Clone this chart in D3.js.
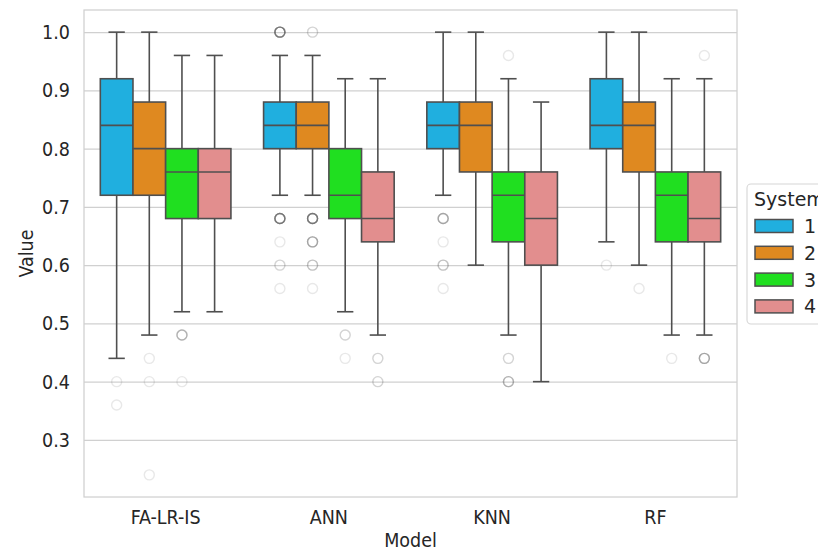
<!DOCTYPE html>
<html>
<head>
<meta charset="utf-8">
<script src="https://cdn.jsdelivr.net/npm/d3@7"></script>
<style>
    body { margin: 0; background: #ffffff; }
    text { font-family: "DejaVu Sans Condensed", "DejaVu Sans", sans-serif; font-stretch: condensed; fill: #262626; }
    text.legend-text { font-family: "DejaVu Sans", sans-serif; font-stretch: normal; }
</style>
</head>
<body>
<svg id="SVG_CONTAINER" width="818" height="551"></svg>
<script>
// categories
const models = ["FA-LR-IS", "ANN", "KNN", "RF"];
const systems = ["1", "2", "3", "4"];
const yTicks = [0.3, 0.4, 0.5, 0.6, 0.7, 0.8, 0.9, 1.0];

// box statistics, rows = model, columns = system
const whiskerHigh = [[1.00, 1.00, 0.96, 0.96], [0.96, 0.96, 0.92, 0.92], [1.00, 1.00, 0.92, 0.88], [1.00, 1.00, 0.92, 0.92]];
const q3 =          [[0.92, 0.88, 0.80, 0.80], [0.88, 0.88, 0.80, 0.76], [0.88, 0.88, 0.76, 0.76], [0.92, 0.88, 0.76, 0.76]];
const median =      [[0.84, 0.80, 0.76, 0.76], [0.84, 0.84, 0.72, 0.68], [0.84, 0.84, 0.72, 0.68], [0.84, 0.84, 0.72, 0.68]];
const q1 =          [[0.72, 0.72, 0.68, 0.68], [0.80, 0.80, 0.68, 0.64], [0.80, 0.76, 0.64, 0.60], [0.80, 0.76, 0.64, 0.64]];
const whiskerLow =  [[0.44, 0.48, 0.52, 0.52], [0.72, 0.72, 0.52, 0.48], [0.72, 0.60, 0.48, 0.40], [0.64, 0.60, 0.48, 0.48]];

// outliers as [value, how many overlap]
const fliers = [
    [[[0.40, 1], [0.36, 1]], [[0.44, 1], [0.40, 1], [0.24, 1]], [[0.48, 4], [0.40, 1]], []],
    [[[1.00, 10], [0.68, 10], [0.64, 1], [0.60, 2], [0.56, 1]], [[1.00, 2], [0.68, 10], [0.64, 5], [0.60, 3], [0.56, 1]], [[0.48, 2], [0.44, 1]], [[0.44, 2], [0.40, 2]]],
    [[[0.68, 5], [0.64, 1], [0.60, 3], [0.56, 1]], [], [[0.96, 1], [0.44, 2], [0.40, 4]], []],
    [[[0.60, 1]], [[0.56, 1]], [[0.44, 1]], [[0.96, 1], [0.44, 5]]]
];

const colours = ["#20afdf", "#df8920", "#20df20", "#e28e8e"];

const MARGIN = {
    "LEFT": 84,
    "RIGHT": 81,
    "TOP": 10,
    "BOTTOM": 54,
};

const width = 818,
    height = 551;

const LINE = "#4f4f4f";
const GRID = "#d0d0d0";

window.onload = function () {
    let svg = d3.select("#SVG_CONTAINER");
    boxPlot(svg);
};

// text helper
function label(g, x, y, str, anchor, rot) {
    return g.append("text")
        .attr("transform", "translate(" + x + "," + y + ")" + (rot ? " rotate(" + rot + ")" : ""))
        .attr("text-anchor", anchor)
        .style("font-size", "19.5px")
        .text(str);
}

boxPlot = function (svg) {
    let chart = svg.append("g");

    //** SCALES *****************************************
    let xScale = d3.scaleBand()
        .domain(models)
        .range([MARGIN.LEFT, width - MARGIN.RIGHT]);

    let yScale = d3.scaleLinear()
        .domain([0.202, 1.038])
        .range([height - MARGIN.BOTTOM, MARGIN.TOP]);

    let hueScale = d3.scaleBand()
        .domain(systems)
        .range([xScale.bandwidth() * 0.1, xScale.bandwidth() * 0.9]);

    //** GRID + FRAME *****************************************
    let yAxis = d3.axisLeft(yScale)
        .tickValues(yTicks)
        .tickSize(-(width - MARGIN.LEFT - MARGIN.RIGHT))
        .tickFormat("");
    let grid = chart.append("g")
        .attr("transform", "translate(" + MARGIN.LEFT + ",0)")
        .call(yAxis);
    grid.select(".domain").remove();
    grid.selectAll("line").attr("stroke", GRID).attr("stroke-width", 1.1);

    chart.append("rect")
        .attr("x", MARGIN.LEFT)
        .attr("y", MARGIN.TOP)
        .attr("width", width - MARGIN.LEFT - MARGIN.RIGHT)
        .attr("height", height - MARGIN.TOP - MARGIN.BOTTOM)
        .attr("fill", "none")
        .attr("stroke", GRID)
        .attr("stroke-width", 1.25);

    // tick labels
    yTicks.forEach(function (t) {
        label(chart, MARGIN.LEFT - 14, yScale(t) + 7, d3.format(".1f")(t), "end");
    });
    models.forEach(function (m) {
        label(chart, xScale(m) + xScale.bandwidth() / 2, 524, m, "middle");
    });

    label(chart, (MARGIN.LEFT + width - MARGIN.RIGHT) / 2, 547, "Model", "middle");
    label(chart, 33, (MARGIN.TOP + height - MARGIN.BOTTOM) / 2, "Value", "middle", -90);

    //** BOXES *****************************************
    models.forEach(function (m, i) {
        systems.forEach(function (s, j) {
            let x0 = xScale(m) + hueScale(s);
            let bw = hueScale.bandwidth();
            let cx = x0 + bw / 2;
            let g = chart.append("g");

            // fliers
            fliers[i][j].forEach(function (f) {
                for (let k = 0; k < f[1]; k++) {
                    g.append("circle")
                        .attr("cx", cx)
                        .attr("cy", yScale(f[0]))
                        .attr("r", 5)
                        .attr("fill", "none")
                        .attr("stroke", LINE)
                        .attr("stroke-opacity", 0.13)
                        .attr("stroke-width", 1.4);
                }
            });

            // whiskers + caps
            [[whiskerHigh[i][j], q3[i][j]], [whiskerLow[i][j], q1[i][j]]].forEach(function (w) {
                g.append("line")
                    .attr("x1", cx).attr("x2", cx)
                    .attr("y1", yScale(w[0])).attr("y2", yScale(w[1]))
                    .attr("stroke", LINE).attr("stroke-width", 1.6);
                g.append("line")
                    .attr("x1", cx - bw / 4).attr("x2", cx + bw / 4)
                    .attr("y1", yScale(w[0])).attr("y2", yScale(w[0]))
                    .attr("stroke", LINE).attr("stroke-width", 1.6);
            });

            g.append("rect")
                .attr("x", x0)
                .attr("y", yScale(q3[i][j]))
                .attr("width", bw)
                .attr("height", yScale(q1[i][j]) - yScale(q3[i][j]))
                .attr("fill", colours[j])
                .attr("stroke", LINE)
                .attr("stroke-width", 1.6);

            g.append("line")
                .attr("x1", x0).attr("x2", x0 + bw)
                .attr("y1", yScale(median[i][j])).attr("y2", yScale(median[i][j]))
                .attr("stroke", LINE).attr("stroke-width", 1.6);
        });
    });

    //** LEGEND *****************************************
    let legend = svg.append("g");
    legend.append("rect")
        .attr("x", 747).attr("y", 184)
        .attr("width", 120).attr("height", 140)
        .attr("rx", 4)
        .attr("fill", "white").attr("fill-opacity", 0.8)
        .attr("stroke", "#d6d6d6").attr("stroke-width", 1.1);
    label(legend, 754, 206, "System", "start")
        .attr("class", "legend-text")
        .style("font-size", "19px");
    systems.forEach(function (s, j) {
        let cy = 226 + j * 26.8;
        legend.append("rect")
            .attr("x", 755).attr("y", cy - 6.5)
            .attr("width", 38).attr("height", 13)
            .attr("fill", colours[j])
            .attr("stroke", LINE).attr("stroke-width", 1.5);
        label(legend, 804, cy + 7, s, "start")
            .attr("class", "legend-text")
            .style("font-size", "19px");
    });
};
</script>
</body>
</html>
